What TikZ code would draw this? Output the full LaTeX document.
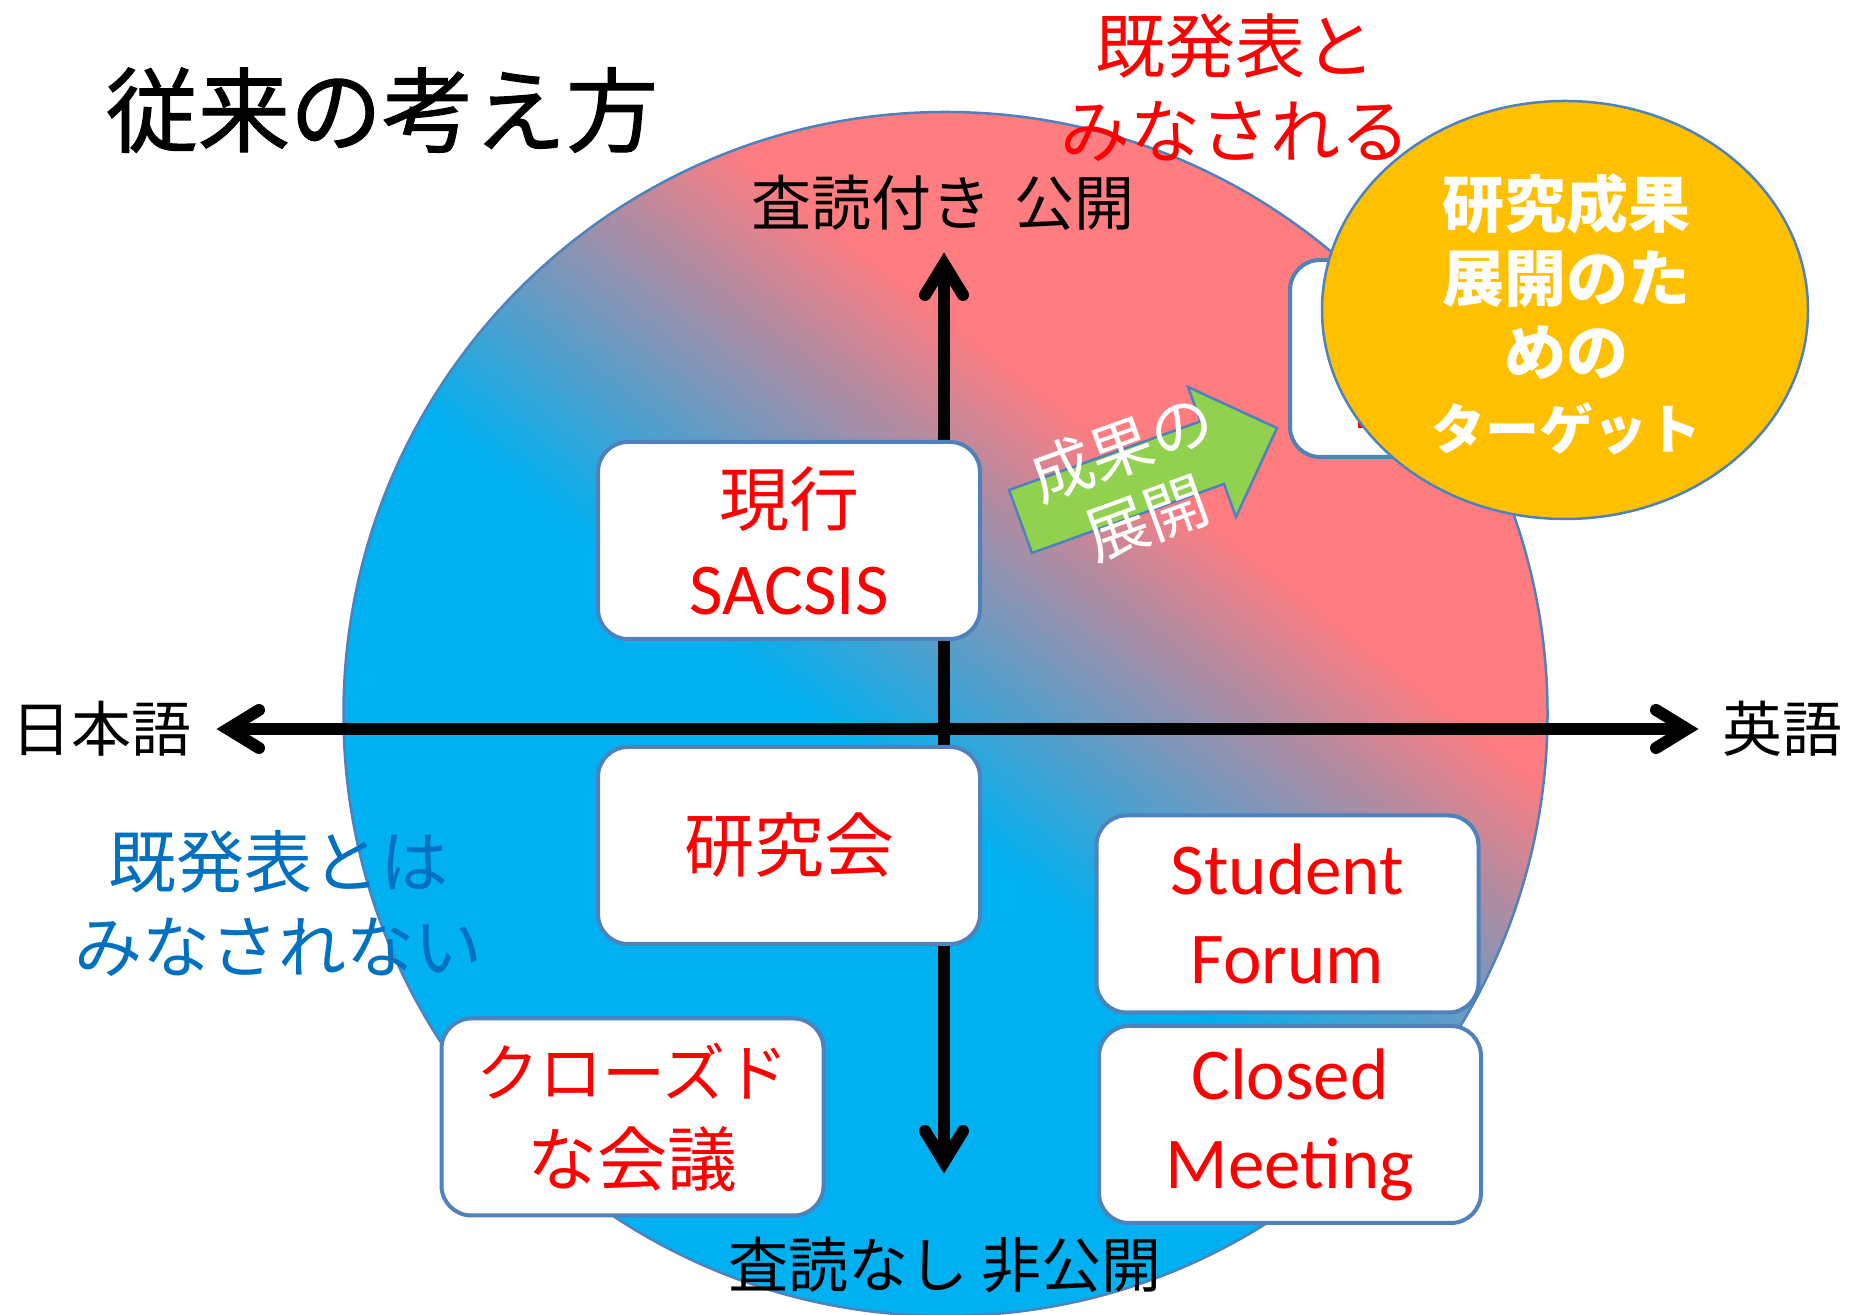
\documentclass[tikz,border=0pt]{standalone}
\usepackage{fontspec}
\usetikzlibrary{shapes.geometric}
\newfontfamily\jp{Noto Sans CJK JP}
\newfontfamily\jpheavy[FakeBold=1.2]{Noto Sans CJK JP}
\newfontfamily\lat{Carlito}
\definecolor{cblue}{RGB}{0,176,240}
\definecolor{cpink}{RGB}{255,124,128}
\definecolor{bord}{RGB}{79,129,189}
\definecolor{txtred}{RGB}{255,0,0}
\definecolor{txtblue}{RGB}{0,112,192}
\definecolor{gold}{RGB}{255,192,0}
\definecolor{leaf}{RGB}{146,208,80}
\begin{document}
\begin{tikzpicture}[x=1pt,y=1pt,
  boxnode/.style={draw=bord, line width=4pt, fill=white, rounded corners=30pt,
    minimum width=382pt, minimum height=197pt, inner sep=0pt, align=center, text=txtred},
  jpbox/.style={font={\jp\fontsize{70}{89}\selectfont}},
  latbox/.style={font={\lat\fontsize{73}{89}\selectfont}},
  axislabel/.style={font={\jp\fontsize{60}{70}\selectfont}, inner sep=0pt},
  axisline/.style={line width=12pt, black},
  barb/.style={line width=12pt, black, line cap=round, line join=miter},
]
\useasboundingbox (0,0) rectangle (1849,1314);

% gradient disc
\begin{scope}
  \clip (945.5,600) circle (602);
  \begin{scope}[shift={(1060,660)}, rotate=-38]
    \fill[cblue] (-1500,-1500) rectangle (1500,-199);
    \fill[cpink] (-1500,199) rectangle (1500,1500);
    \foreach \i in {0,...,49}{
      \pgfmathsetmacro\p{(\i+0.5)*100/50}
      \fill[cpink!\p!cblue] (-1500,{-200+\i*8}) rectangle (1500,{-200+\i*8+8.6});
    }
  \end{scope}
\end{scope}
\node[circle, draw=bord, line width=2.5pt, minimum size=1204pt, inner sep=0pt] (disc) at (945.5,600) {};

% axes
\coordinate (vtop) at (944,1050);
\coordinate (vbot) at (944,152);
\coordinate (hleft) at (228,585);
\coordinate (hright) at (1687,585);
\draw[axisline] (vbot) -- (vtop);
\draw[axisline] (hleft) -- (hright);
\draw[barb] (vtop) ++(-19,-31) -- (vtop) -- ++(19,-31);
\draw[barb] (vbot) ++(-19,31) -- (vbot) -- ++(19,31);
\draw[barb] (hleft) ++(31,-19) -- (hleft) -- ++(31,19);
\draw[barb] (hright) ++(-31,-19) -- (hright) -- ++(-31,19);

\node[axislabel] (lbltop) at (943,1111) {査読付き\hspace{0.4em}公開};
\node[axislabel] (lblbot) at (945,49) {査読なし 非公開};
\node[axislabel] (lblleft) at (101,585) {日本語};
\node[axislabel] (lblright) at (1782,585) {英語};

% boxes
\node[boxnode, jpbox] (genko) at (789,773.5) {現行\\{\lat\fontsize{73}{89}\selectfont SACSIS}};
\node[boxnode, jpbox] (kenkyukai) at (789,468.5) {研究会};
\node[boxnode, latbox] (student) at (1287.5,400) {Student\\Forum};
\node[boxnode, latbox] (closedm) at (1290,189.5) {Closed\\Meeting};
\node[boxnode, jpbox] (closedjp) at (632.5,197) {{\fontsize{63}{89}\selectfont クローズド}\\な会議};

% green block arrow
\draw[draw=bord, line width=2.5pt, fill=leaf] (1009,824) -- (1200.5,892.7) -- (1188,927)
  -- (1277,886) -- (1236,797) -- (1224,830) -- (1032,761) -- cycle;
\node[white, font={\jp\fontsize{63}{74}\selectfont}, align=center, rotate=20, inner sep=0pt]
  (seika) at (1134,831) {成果の\\展開};

% hidden box and target ellipse
\node[boxnode] (hidden) at (1481,955.5) {};
\fill[txtred] (1358,886) rectangle (1372,894);
\node[ellipse, draw=bord, line width=2.5pt, fill=gold, minimum width=486pt,
  minimum height=418pt, inner sep=0pt] (target) at (1565,1004) {};
\node[white, font={\jp\bfseries\fontsize{62}{74}\selectfont}, align=center, inner sep=0pt]
  (targettext) at (1566,1000) {研究成果\\展開のた\\めの\\{\fontsize{54}{74}\selectfont ターゲット}};

% free texts
\node[font={\jpheavy\fontsize{92}{100}\selectfont}, inner sep=0pt] (title) at (382,1204) {従来の考え方};
\node[font={\jp\fontsize{70}{85}\selectfont}, text=txtred, align=center, inner sep=0pt]
  (kihappyo) at (1235,1226.5) {既発表と\\みなされる};
\node[font={\jp\fontsize{68}{85}\selectfont}, text=txtblue, align=center, inner sep=0pt]
  (notkihappyo) at (278,410.5) {既発表とは\\みなされない};
\end{tikzpicture}
\end{document}
